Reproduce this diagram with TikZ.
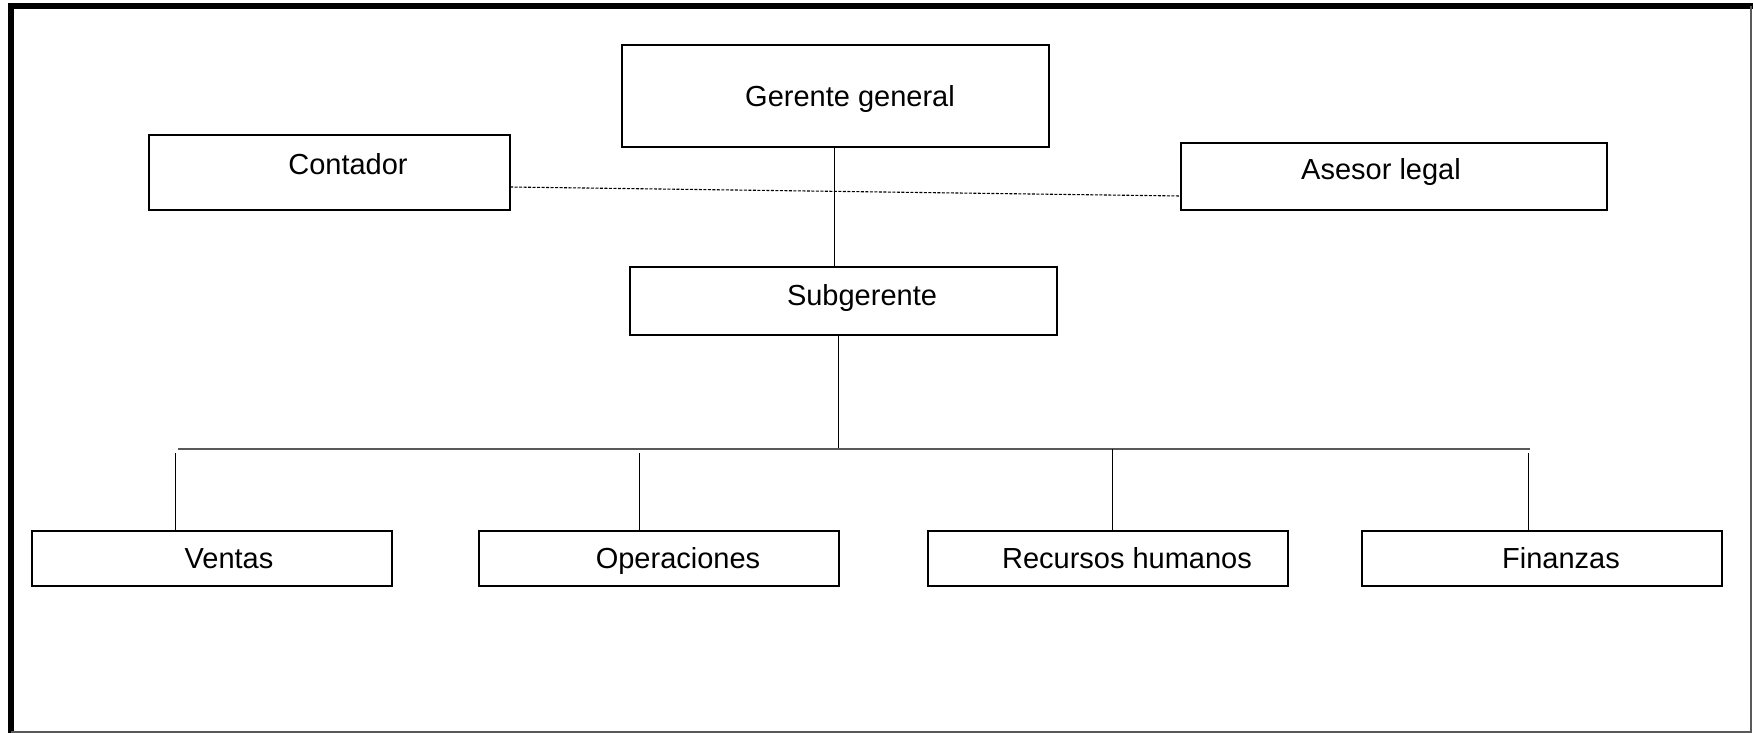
\documentclass[tikz,border=0pt]{standalone}
\usepackage{fontspec}
\setmainfont{Liberation Sans}
\begin{document}
\begin{tikzpicture}[x=1pt,y=-1pt,
  box/.style={draw=black, line width=2.5pt, inner sep=0pt, outer sep=0pt, fill=white},
  lbl/.style={inner sep=0pt, anchor=base, font=\fontsize{29}{34}\selectfont},
  conn/.style={draw=black, line width=1pt},
  bus/.style={draw=black!65, line width=1.6pt},
  dsh/.style={draw=black, line width=1.1pt, dash pattern=on 3pt off 1.5pt}]
\useasboundingbox (0,0) rectangle (1753,733);
% frame
\draw[line width=6pt, line join=miter] (10.5,733) -- (10.5,6.5) -- (1753,6.5);
\draw[black!65, line width=2pt] (1751,6.5) -- (1751,732) -- (10.5,732);
% boxes
\node[box, minimum width=427pt, minimum height=102pt] (gg) at (835.5,96) {};
\node[box, minimum width=361pt, minimum height=75pt] (cont) at (329.5,172.5) {};
\node[box, minimum width=426pt, minimum height=67pt] (ase) at (1394,176.5) {};
\node[box, minimum width=427pt, minimum height=68pt] (sub) at (843.5,301) {};
\node[box, minimum width=360pt, minimum height=55pt] (ven) at (212,558.5) {};
\node[box, minimum width=360pt, minimum height=55pt] (ope) at (659,558.5) {};
\node[box, minimum width=360pt, minimum height=55pt] (rh) at (1108,558.5) {};
\node[box, minimum width=360pt, minimum height=55pt] (fin) at (1542,558.5) {};
% labels
\node[lbl] (ggt) at (850,107) {Gerente general};
\node[lbl] (contt) at (348,174.5) {Contador};
\node[lbl] (aset) at (1381,179.5) {Asesor legal};
\node[lbl] (subt) at (862,305) {Subgerente};
\node[lbl] (vent) at (229,568.5) {Ventas};
\node[lbl] (opet) at (678,568.5) {Operaciones};
\node[lbl] (rht) at (1127,568.5) {Recursos humanos};
\node[lbl] (fint) at (1561,568.5) {Finanzas};
% connectors
\coordinate (busM) at (838.5,449);
\coordinate (busL) at (178,449);
\coordinate (busR) at (1530,449);
\coordinate (dv) at (175,453);
\coordinate (dop) at (639,453);
\coordinate (drh) at (1112,449);
\coordinate (dfi) at (1528,453);
\draw[dsh] ([yshift=-14.5pt]cont.east) -- ([yshift=-19.5pt]ase.west);
\draw[conn] ([xshift=-1.5pt]gg.south) -- ([xshift=-1.5pt]gg.south |- sub.north);
\draw[conn] (busM |- sub.south) -- (busM);
\draw[bus] (busL) -- (busR);
\draw[conn] (dv) -- (dv |- ven.north);
\draw[conn] (dop) -- (dop |- ope.north);
\draw[conn] (drh) -- (drh |- rh.north);
\draw[conn] (dfi) -- (dfi |- fin.north);
\end{tikzpicture}
\end{document}
